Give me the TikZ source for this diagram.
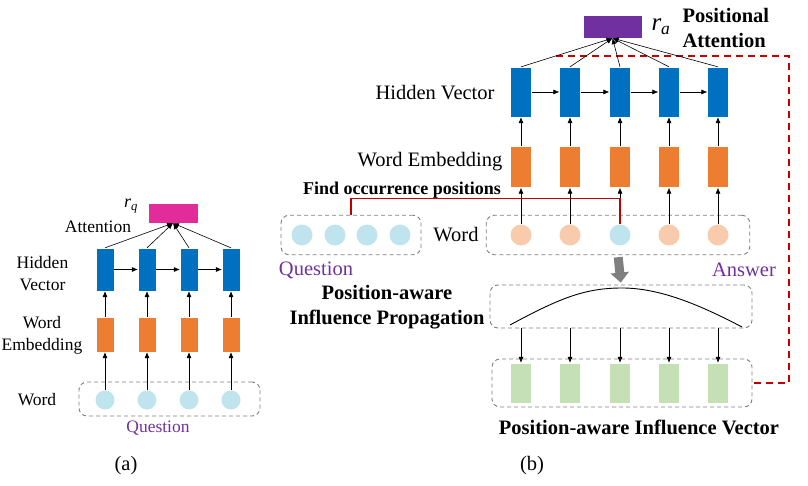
\documentclass[tikz,border=0pt]{standalone}
\usepackage{fontspec}
\setmainfont{Liberation Serif}
\usetikzlibrary{arrows.meta}
\definecolor{hidblue}{RGB}{0,112,192}
\definecolor{emborange}{RGB}{237,125,49}
\definecolor{attpink}{RGB}{226,44,154}
\definecolor{attpurple}{RGB}{112,48,160}
\definecolor{wordblue}{RGB}{191,228,238}
\definecolor{wordpeach}{RGB}{248,203,173}
\definecolor{inflgreen}{RGB}{197,224,180}
\definecolor{linkred}{RGB}{192,0,0}
\definecolor{boxgray}{RGB}{127,127,127}

\begin{document}
\begin{tikzpicture}[x=1pt,y=-1pt,
  arr/.style={-{Latex[length=6pt,width=5pt]},line width=0.6pt},
  block/.style={inner sep=0pt,draw=white,line width=0.3pt},
  wordcirc/.style={circle,inner sep=0pt,minimum size=#1},
  dashbox/.style={draw=boxgray,dash pattern=on 4pt off 3pt,line width=0.9pt,rounded corners=8pt,inner sep=0pt},
  lbla/.style={font=\fontsize{17.5}{22}\selectfont,align=center},
  lblb/.style={font=\fontsize{20.5}{26}\selectfont,align=center},
  boldb/.style={font=\fontsize{20.5}{25.5}\selectfont\bfseries,align=center}]
\useasboundingbox (0,0) rectangle (808,486);

\node[block,fill=attpink,minimum width=50pt,minimum height=20pt] (rq) at (173,213) {};
\node[font=\fontsize{18}{22}\selectfont] (rqlbl) at (131,206) {\itshape r\textsubscript{q}};
\node[lbla] (qattlbl) at (98,227) {Attention};
\node[lbla] (qhidlbl) at (42.5,273.5) {Hidden\\Vector};
\node[lbla] (qemblbl) at (42,335) {Word\\Embedding};
\node[lbla] (qwordlbl) at (37,400) {Word};
\node[dashbox,minimum width=181pt,minimum height=34pt] (qb) at (169.5,399) {};
\node[lbla,text=attpurple] (qlbl) at (158,428) {Question};
\node[lblb] (capa) at (126,466) {(a)};
\foreach \i/\x in {1/105,2/147,3/189,4/231}{
  \node[block,fill=hidblue,minimum width=18pt,minimum height=43pt] (qh\i) at (\x,269.5) {};
  \node[block,fill=emborange,minimum width=18pt,minimum height=35pt] (qe\i) at (\x,334.5) {};
  \node[wordcirc=19pt,fill=wordblue] (qw\i) at (\x,400) {};
  \draw[arr] (qw\i) -- (qe\i);
  \draw[arr] (qe\i) -- (qh\i);
  \draw[arr] (qh\i.north) -- (rq.south);
}
\foreach \i/\j in {1/2,2/3,3/4} \draw[arr] (qh\i) -- (qh\j);

\node[block,fill=attpurple,minimum width=59pt,minimum height=23pt] (ra) at (612.5,26.5) {};
\node[font=\fontsize{25}{28}\selectfont] (ralbl) at (661,27) {\itshape r\textsubscript{a}};
\node[boldb,align=left,anchor=west] (palbl) at (679,28) {Positional\\Attention};
\node[lblb] (ahidlbl) at (435,93) {Hidden Vector};
\node[lblb] (aemblbl) at (430,162) {Word Embedding};
\node[font=\fontsize{18}{22}\selectfont\bfseries] (findlbl) at (402,190) {Find occurrence positions};
\node[lblb] (awordlbl) at (456,235) {Word};
\node[dashbox,minimum width=140pt,minimum height=39.5pt] (qb2) at (351,235) {};
\node[dashbox,minimum width=263.5pt,minimum height=39.5pt] (ab) at (618,235) {};
\node[lblb,text=attpurple] (qlbl2) at (316,270) {Question};
\node[lblb,text=attpurple] (albl) at (744,270) {Answer};
\node[dashbox,minimum width=262pt,minimum height=43pt] (pb) at (621,306.5) {};
\node[boldb] (pblbl) at (387,307) {Position-aware\\Influence Propagation};
\node[dashbox,minimum width=260pt,minimum height=48pt] (gb) at (622,383) {};
\node[boldb] (gblbl) at (639,427) {Position-aware Influence Vector};
\node[lblb] (capb) at (532,466) {(b)};
\coordinate (rs) at (556,56);
\coordinate (rc) at (789,56);
\draw[linkred,line width=1.5pt,dash pattern=on 7pt off 5pt] (rs) -- (rc) |- (gb.east);
\foreach \i/\x in {1/302,2/335,3/367,4/400} \node[wordcirc=21pt,fill=wordblue] (qc\i) at (\x,235) {};
\foreach \i/\x/\c in {1/521/wordpeach,2/570/wordpeach,3/620/wordblue,4/669/wordpeach,5/718/wordpeach}{
  \node[block,fill=hidblue,minimum width=21pt,minimum height=50pt] (ah\i) at (\x,92) {};
  \node[block,fill=emborange,minimum width=21pt,minimum height=41pt] (ae\i) at (\x,167) {};
  \node[wordcirc=21pt,fill=\c] (aw\i) at (\x,235) {};
  \node[block,fill=inflgreen,minimum width=21pt,minimum height=40pt] (g\i) at (\x,383) {};
  \draw[arr] (aw\i) -- (ae\i);
  \draw[arr] (ae\i) -- (ah\i);
  \draw[arr] (ah\i.north) -- (ra.south);
  \draw[arr] (g\i |- pb.south) -- (g\i);
}
\foreach \i/\j in {1/2,2/3,3/4,4/5} \draw[arr] (ah\i) -- (ah\j);
\draw[linkred,line width=1.2pt] (qb2.north) -- ++(0,-16) -| (aw3.north);
\draw[boxgray,line width=9pt,-{Triangle[length=10pt,width=18pt]},shorten <=2pt,shorten >=2pt] (ab.south) -- (pb.north);
\draw[line width=0.9pt] (510,325) .. controls (560,298) and (585,288) .. (622,288) .. controls (660,288) and (700,305) .. (742,327);
\end{tikzpicture}
\end{document}
